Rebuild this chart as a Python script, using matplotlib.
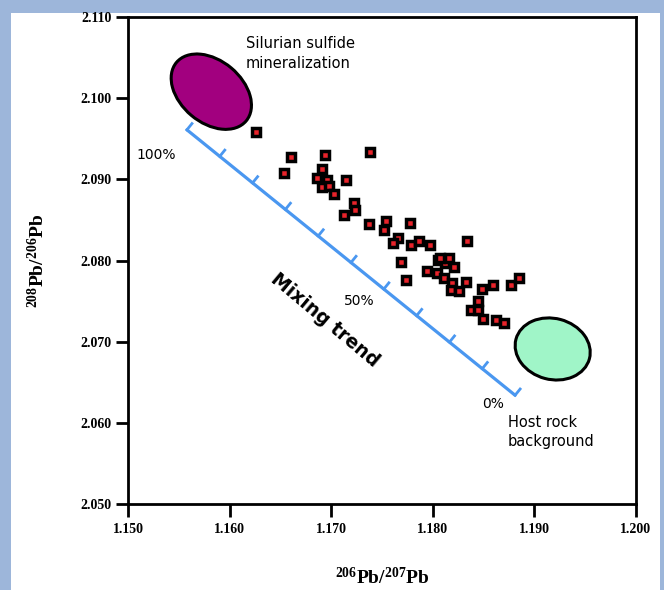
import numpy as np
import matplotlib
matplotlib.use('Agg')
import matplotlib.pyplot as plt
from matplotlib.patches import Ellipse, Rectangle
from matplotlib.transforms import ScaledTranslation

plt.rcParams['mathtext.fontset'] = 'custom'
plt.rcParams['mathtext.rm'] = 'Liberation Serif:bold'
plt.rcParams['mathtext.it'] = 'Liberation Serif:bold'
plt.rcParams['mathtext.bf'] = 'Liberation Serif:bold'

# sample data: 206Pb/207Pb vs 208Pb/206Pb
pb206_207 = [1.1626, 1.1660, 1.1694, 1.1738, 1.1654, 1.1691, 1.1686, 1.1696,
             1.1715, 1.1691, 1.1698, 1.1703, 1.1722, 1.1723, 1.1713, 1.1737,
             1.1754, 1.1752, 1.1778, 1.1834, 1.1766, 1.1761, 1.1779, 1.1786,
             1.1797, 1.1805, 1.1812, 1.1816, 1.1821, 1.1769, 1.1794, 1.1804,
             1.1811, 1.1774, 1.1819, 1.1833, 1.1818, 1.1826, 1.1848, 1.1859,
             1.1877, 1.1885, 1.1844, 1.1838, 1.1844, 1.1849, 1.1862, 1.1870,
             1.1807]
pb208_206 = [2.0958, 2.0928, 2.0930, 2.0934, 2.0908, 2.0913, 2.0902, 2.0899,
             2.0899, 2.0891, 2.0892, 2.0882, 2.0871, 2.0862, 2.0856, 2.0845,
             2.0849, 2.0838, 2.0846, 2.0824, 2.0828, 2.0822, 2.0819, 2.0824,
             2.0819, 2.0801, 2.0797, 2.0803, 2.0792, 2.0798, 2.0787, 2.0785,
             2.0778, 2.0776, 2.0772, 2.0774, 2.0764, 2.0762, 2.0765, 2.0770,
             2.0770, 2.0778, 2.0750, 2.0739, 2.0739, 2.0728, 2.0727, 2.0723,
             2.0803]

# mixing trend from 100% (sulfide) to 0% (host rock)
mix_x = [1.1558, 1.1881]
mix_y = [2.0961, 2.0634]
mix_steps = 11
pct_labels = ['100%', '50%', '0%']
pct_x = [1.1528, 1.1728, 1.1859]
pct_y = [2.0930, 2.0750, 2.0623]

# end members
sulfide_xy = (1.1582, 2.1008)
host_xy = (1.1918, 2.0691)

xticks = [1.150, 1.160, 1.170, 1.180, 1.190, 1.200]
yticks = [2.050, 2.060, 2.070, 2.080, 2.090, 2.100, 2.110]

fig = plt.figure(figsize=(6.64, 5.90), dpi=100)
fig.patch.set_facecolor('#9db6da')
fig.patches.append(Rectangle((11/664, 0), 649/664, 577/590, transform=fig.transFigure,
                             facecolor='white', edgecolor='none', zorder=-10))

ax = fig.add_axes([128/664, 86/590, 508/664, 487/590])
ax.set_xlim(1.150, 1.200)
ax.set_ylim(2.050, 2.110)
for s in ax.spines.values():
    s.set_linewidth(2)
ax.set_xticks(xticks)
ax.set_xticklabels(['%.3f' % v for v in xticks])
ax.set_yticks(yticks)
ax.set_yticklabels(['%.3f' % v for v in yticks])
ax.tick_params(direction='out', length=9, width=2, pad=3)
ax.tick_params(axis='x', pad=5)
for lab in ax.get_xticklabels() + ax.get_yticklabels():
    lab.set_fontfamily('Liberation Serif')
    lab.set_fontweight('bold')
    lab.set_fontsize(10)

lab_font = dict(fontsize=14, fontfamily='Liberation Serif', fontweight='bold')
ax.set_xlabel(r'$^{206}$Pb/$^{207}$Pb', labelpad=22, **lab_font)
ax.set_ylabel(r'$^{208}$Pb/$^{206}$Pb', labelpad=23, **lab_font)

# mixing line with perpendicular ticks (done in display space)
p0 = ax.transData.transform((mix_x[0], mix_y[0]))
p1 = ax.transData.transform((mix_x[1], mix_y[1]))
d = (p1 - p0) / np.hypot(*(p1 - p0))
n = np.array([-d[1], d[0]])
ax.plot(mix_x, mix_y, color='#4a97f0', lw=2.3, solid_capstyle='round', zorder=2)
inv = ax.transData.inverted()
for f in np.linspace(0, 1, mix_steps):
    base = p0 + f * (p1 - p0)
    tip = base + n * 8
    seg = inv.transform([base, tip])
    ax.plot(seg[:, 0], seg[:, 1], color='#4a97f0', lw=2.0, zorder=2)

for t, x, y in zip(pct_labels, pct_x, pct_y):
    ax.text(x, y, t, fontsize=10, ha='center', va='center')

ang = np.degrees(np.arctan2(d[1], d[0]))
ax.text(1.1694, 2.0727, 'Mixing trend', fontsize=13.5, fontweight='bold',
        rotation=ang - 1, ha='center', va='center', rotation_mode='anchor')

# end-member fields, sized in inches around data centres
for (cx, cy), w, h, a, col in [(sulfide_xy, 0.91, 0.62, -40, '#a2007f'),
                               (host_xy, 0.76, 0.61, -15, '#a0f5c8')]:
    tr = fig.dpi_scale_trans + ScaledTranslation(cx, cy, ax.transData)
    ax.add_patch(Ellipse((0, 0), w, h, angle=a, transform=tr,
                         facecolor=col, edgecolor='black', lw=2.2, zorder=3))

ax.plot(pb206_207, pb208_206, 's', markersize=5.5, markerfacecolor='#e8232a',
        markeredgecolor='black', markeredgewidth=2.5, zorder=4)

ax.text(1.1616, 2.1076, 'Silurian sulfide\nmineralization', fontsize=10.5,
        ha='left', va='top', linespacing=1.35)
ax.text(1.1874, 2.0610, 'Host rock\nbackground', fontsize=10.5,
        ha='left', va='top', linespacing=1.35)

fig.savefig('out.png', dpi=100)
